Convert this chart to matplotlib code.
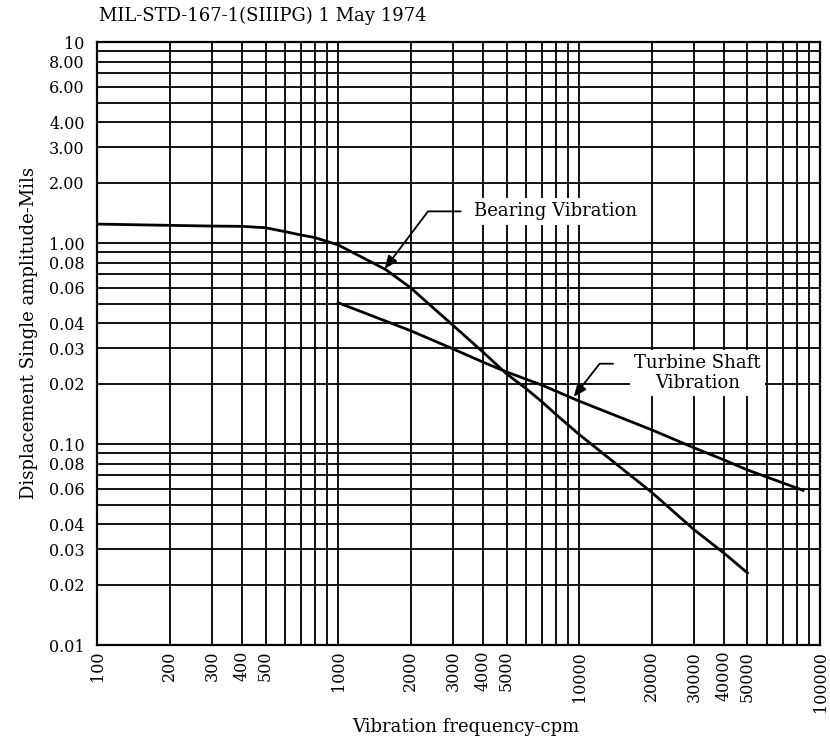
import matplotlib
matplotlib.use("Agg")
import matplotlib.pyplot as plt

# Values (true log positions on the axes)
freq_bearing = [100, 200, 300, 400, 500, 600, 700, 800, 1000, 1575, 2000, 3000,
                4000, 5000, 6000, 7000, 8000, 10000, 20000, 30000, 40000, 50000]
amp_bearing = [1.245, 1.227, 1.217, 1.213, 1.194, 1.143, 1.099, 1.067, 0.981, 0.74,
               0.60, 0.39, 0.287, 0.224, 0.19, 0.163, 0.141, 0.112, 0.0577,
               0.0376, 0.0287, 0.0229]

freq_turbine = [1000, 2000, 3000, 4000, 5000, 7000, 10000, 20000, 30000, 40000,
                50000, 85000]
amp_turbine = [0.506, 0.367, 0.298, 0.256, 0.229, 0.197, 0.164, 0.118, 0.096,
               0.0835, 0.0745, 0.059]

# tick labels exactly as printed on the original (its lower decades are mislabelled)
ytick_pos = [10, 8, 6, 4, 3, 2, 1, 0.8, 0.6, 0.4, 0.3, 0.2,
             0.1, 0.08, 0.06, 0.04, 0.03, 0.02, 0.01]
ytick_labels = ['10', '8.00', '6.00', '4.00', '3.00', '2.00', '1.00', '0.08', '0.06',
                '0.04', '0.03', '0.02', '0.10', '0.08', '0.06', '0.04', '0.03',
                '0.02', '0.01']
xtick_pos = [100, 200, 300, 400, 500, 1000, 2000, 3000, 4000, 5000,
             10000, 20000, 30000, 40000, 50000, 100000]
xtick_labels = [str(x) for x in xtick_pos]

plt.rcParams['font.family'] = ['DejaVu Serif']
FS = 11.5   # tick labels
FL = 13     # title, axis labels, callouts

fig = plt.figure(figsize=(8.3, 7.4), dpi=100)
ax = fig.add_axes([0.117, 0.128, 0.871, 0.815])
ax.set_xscale('log')
ax.set_yscale('log')
ax.set_xlim(100, 100000)
ax.set_ylim(0.01, 10)

xminor = [m * 10 ** e for e in (2, 3, 4) for m in range(1, 10)] + [100000]
yminor = [m * 10 ** e for e in (-2, -1, 0) for m in range(1, 10)] + [10]
ax.set_xticks(xminor, minor=True)
ax.set_yticks(yminor, minor=True)
ax.set_xticks(xtick_pos, xtick_labels, rotation=90, fontsize=FS)
ax.set_yticks(ytick_pos, ytick_labels, fontsize=FS)
ax.tick_params(which='both', length=0)
ax.tick_params(axis='y', pad=9)
ax.tick_params(axis='x', pad=4)
ax.xaxis.set_minor_formatter(plt.NullFormatter())
ax.yaxis.set_minor_formatter(plt.NullFormatter())
ax.grid(True, which='both', color='black', linewidth=1.3)
for s in ax.spines.values():
    s.set_linewidth(1.6)

ax.plot(freq_bearing, amp_bearing, color='black', linewidth=2.0, zorder=3)
ax.plot(freq_turbine, amp_turbine, color='black', linewidth=2.0, zorder=3)

box = dict(boxstyle='square,pad=0.25', fc='white', ec='none')
ax.annotate('Bearing Vibration', xy=(1560, 0.745), xytext=(3650, 1.44),
            ha='left', va='center', fontsize=FL, bbox=box, zorder=4,
            arrowprops=dict(arrowstyle='-|>,head_length=0.6,head_width=0.25',
                            color='black', lw=1.3, shrinkA=6, shrinkB=0,
                            relpos=(0, 0.5),
                            connectionstyle='angle,angleA=0,angleB=53,rad=0'))
ax.annotate('Turbine Shaft\nVibration', xy=(9500, 0.172), xytext=(31000, 0.226),
            ha='center', va='center', fontsize=FL, bbox=box, zorder=4,
            linespacing=1.1,
            arrowprops=dict(arrowstyle='-|>,head_length=0.6,head_width=0.25',
                            color='black', lw=1.3, shrinkA=12, shrinkB=0,
                            relpos=(0, 0.75),
                            connectionstyle='angle,angleA=0,angleB=52,rad=0'))

fig.text(466 / 830, 1 - 727 / 740, 'Vibration frequency-cpm', fontsize=FL,
         ha='center', va='center')
fig.text(29 / 830, 1 - 333 / 740, 'Displacement Single amplitude-Mils',
         fontsize=FL, rotation=90, ha='center', va='center')
fig.text(0.119, 1 - 16 / 740, 'MIL-STD-167-1(SIIIPG) 1 May 1974', fontsize=FL,
         ha='left', va='center')

fig.savefig('out.png', dpi=100)
